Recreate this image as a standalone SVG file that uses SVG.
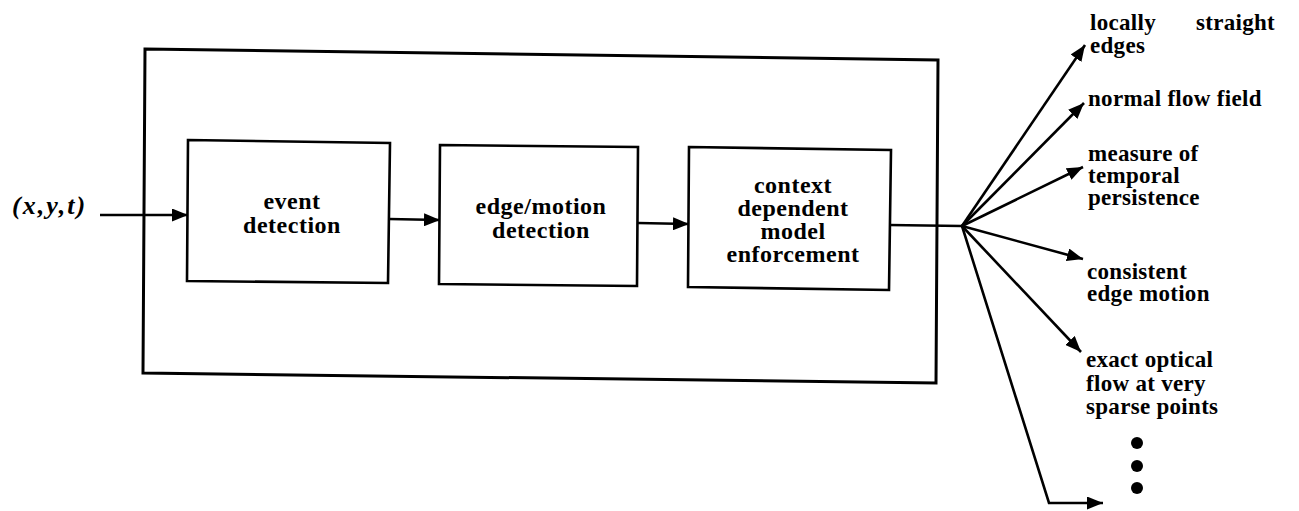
<svg xmlns="http://www.w3.org/2000/svg" width="1299" height="511" viewBox="0 0 1299 511">
  <style>
    .box { fill: none; stroke: #000; stroke-width: 2.6; stroke-linejoin: miter; }
    .frame { fill: none; stroke: #000; stroke-width: 3; }
    .wire { fill: none; stroke: #000; stroke-width: 2.6; }
    .blk { font-family: "Liberation Serif", "DejaVu Serif", serif; font-weight: bold; font-size: 24px; letter-spacing: 0.5px; fill: #000; text-anchor: middle; }
    .out { font-family: "Liberation Serif", "DejaVu Serif", serif; font-weight: bold; font-size: 23px; letter-spacing: 0.3px; fill: #000; }
    .math { font-family: "Liberation Serif", "DejaVu Serif", serif; font-weight: bold; font-style: italic; font-size: 26px; letter-spacing: 2px; fill: #000; }
  </style>
  <defs>
    <marker id="arrow" markerUnits="userSpaceOnUse" markerWidth="17" markerHeight="13" refX="16" refY="6.5" orient="auto">
      <path d="M0,0 L16,6.5 L0,13 Z" fill="#000"/>
    </marker>
  </defs>

  <rect width="1299" height="511" fill="#fff"/>

  <!-- enclosing system frame -->
  <g id="system">
    <path class="frame" d="M145,49 L938,60 L936,383 L143,373 Z"/>
  </g>

  <!-- input label -->
  <g id="input">
    <text class="math" x="12" y="214">(x,y,t)</text>
  </g>

  <!-- processing stages -->
  <g id="event-detection">
    <path class="box" d="M188,140 L390,143 L388,283 L187,281 Z"/>
    <text class="blk" x="292" y="209">event</text>
    <text class="blk" x="292" y="233">detection</text>
  </g>

  <g id="edge-motion-detection">
    <path class="box" d="M440,145 L638,147 L637,286 L439,284 Z"/>
    <text class="blk" x="541" y="214">edge/motion</text>
    <text class="blk" x="541" y="238">detection</text>
  </g>

  <g id="model-enforcement">
    <path class="box" d="M689,147 L891,150 L889,290 L688,287 Z"/>
    <text class="blk" x="793" y="193">context</text>
    <text class="blk" x="793" y="216">dependent</text>
    <text class="blk" x="793" y="239">model</text>
    <text class="blk" x="793" y="262">enforcement</text>
  </g>

  <!-- outputs -->
  <g id="out-straight-edges">
    <text class="out" x="1090" y="30">locally<tspan x="1196">straight</tspan></text>
    <text class="out" x="1090" y="53">edges</text>
  </g>
  <g id="out-normal-flow">
    <text class="out" x="1088" y="106">normal flow field</text>
  </g>
  <g id="out-persistence">
    <text class="out" x="1088" y="161">measure of</text>
    <text class="out" x="1088" y="183">temporal</text>
    <text class="out" x="1088" y="205">persistence</text>
  </g>
  <g id="out-edge-motion">
    <text class="out" x="1087" y="279">consistent</text>
    <text class="out" x="1087" y="301">edge motion</text>
  </g>
  <g id="out-optical-flow">
    <text class="out" x="1086" y="367">exact optical</text>
    <text class="out" x="1086" y="391">flow at very</text>
    <text class="out" x="1086" y="414">sparse points</text>
  </g>
  <g id="out-more">
    <circle cx="1137" cy="443" r="6"/>
    <circle cx="1137" cy="466" r="6"/>
    <circle cx="1137" cy="488" r="6"/>
  </g>

  <!-- connectors -->
  <g id="connectors">
    <line class="wire" x1="100" y1="215" x2="188" y2="215" marker-end="url(#arrow)"/>
    <line class="wire" x1="389" y1="219" x2="440" y2="220" marker-end="url(#arrow)"/>
    <line class="wire" x1="638" y1="223" x2="689" y2="224" marker-end="url(#arrow)"/>
    <line class="wire" x1="889" y1="225" x2="962" y2="226"/>
    <line class="wire" x1="962" y1="226" x2="1085" y2="45" marker-end="url(#arrow)"/>
    <line class="wire" x1="962" y1="226" x2="1084" y2="103" marker-end="url(#arrow)"/>
    <line class="wire" x1="962" y1="226" x2="1083" y2="167" marker-end="url(#arrow)"/>
    <line class="wire" x1="962" y1="226" x2="1083" y2="259" marker-end="url(#arrow)"/>
    <line class="wire" x1="962" y1="226" x2="1081" y2="352" marker-end="url(#arrow)"/>
    <polyline class="wire" points="962,226 1049,503 1103,503" marker-end="url(#arrow)"/>
  </g>
</svg>
